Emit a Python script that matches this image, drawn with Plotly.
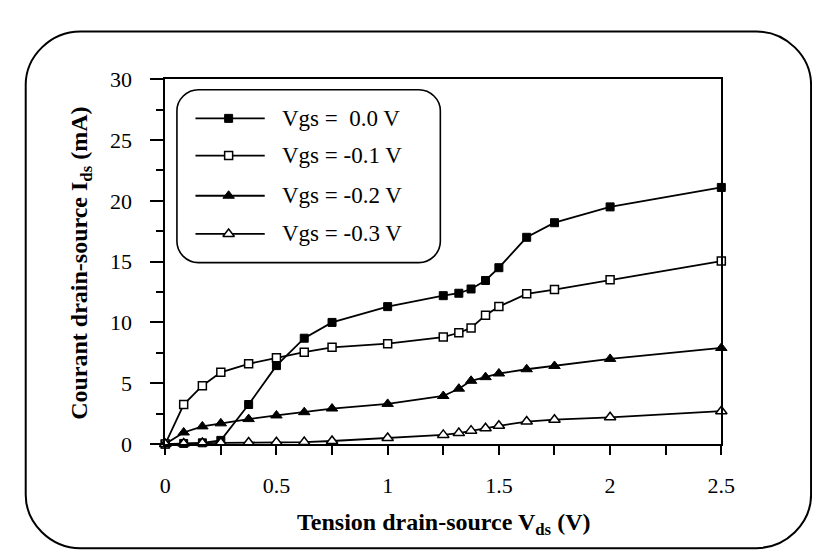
import plotly.graph_objects as go

# ---- data ----
vds = [0, 0.083, 0.167, 0.25, 0.375, 0.5, 0.625, 0.75, 1.0, 1.25, 1.32, 1.375,
       1.44, 1.5, 1.625, 1.75, 2.0, 2.5]
ids_vgs_0 = [0, 0.05, 0.1, 0.3, 3.25, 6.45, 8.7, 10.0, 11.3, 12.2, 12.4, 12.75,
             13.45, 14.5, 17.0, 18.2, 19.5, 21.1]
ids_vgs_m01 = [0, 3.25, 4.8, 5.9, 6.6, 7.1, 7.55, 7.95, 8.25, 8.8, 9.15, 9.55,
               10.6, 11.3, 12.35, 12.7, 13.5, 15.05]
ids_vgs_m02 = [0, 0.95, 1.45, 1.7, 2.05, 2.35, 2.62, 2.92, 3.3, 3.95, 4.55, 5.2,
               5.5, 5.8, 6.15, 6.42, 7.0, 7.9]
ids_vgs_m03 = [0, 0.05, 0.08, 0.1, 0.12, 0.14, 0.16, 0.25, 0.5, 0.75, 0.9, 1.1,
               1.3, 1.5, 1.85, 2.0, 2.2, 2.7]
series_names = ["Vgs =  0.0 V", "Vgs = -0.1 V", "Vgs = -0.2 V", "Vgs = -0.3 V"]
x_tick_vals = [0, 0.5, 1, 1.5, 2, 2.5]
x_tick_text = ["0", "0.5", "1", "1.5", "2", "2.5"]
y_tick_vals = [0, 5, 10, 15, 20, 25, 30]

W, H = 820, 556
FONT = "Liberation Serif, Times New Roman, serif"

styles = [
    dict(symbol="square", color="black", size=8, line=dict(color="black", width=1)),
    dict(symbol="square", color="white", size=8, line=dict(color="black", width=1.5)),
    dict(symbol="triangle-up", color="black", size=10, line=dict(color="black", width=1)),
    dict(symbol="triangle-up", color="white", size=10, line=dict(color="black", width=1.5)),
]
series = [ids_vgs_0, ids_vgs_m01, ids_vgs_m02, ids_vgs_m03]

fig = go.Figure()
for ys, st in zip(series, styles):
    fig.add_trace(go.Scatter(
        x=vds, y=ys, mode="lines+markers", showlegend=False,
        line=dict(color="black", width=1.8), marker=st, cliponaxis=False,
        xaxis="x", yaxis="y"))

# custom rounded legend, drawn on a pixel overlay axis
leg_rows = [103, 142, 184, 224]
for name, st, ry in zip(series_names, styles, leg_rows):
    fig.add_trace(go.Scatter(
        x=[186, 257], y=[ry, ry], mode="lines", showlegend=False,
        line=dict(color="black", width=1.8), xaxis="x2", yaxis="y2",
        hoverinfo="skip"))
    fig.add_trace(go.Scatter(
        x=[220], y=[ry], mode="markers", showlegend=False, marker=st,
        xaxis="x2", yaxis="y2", hoverinfo="skip", cliponaxis=False))
    fig.add_annotation(x=273, y=ry, xref="x2", yref="y2", text=name,
                       showarrow=False, xanchor="left", yanchor="middle",
                       font=dict(family=FONT, size=23, color="black"))


def rounded(x0, y0, x1, y1, r):
    k = 0.54 * r
    return (f"M{x0+r},{y0} L{x1-r},{y0} C{x1-r+k},{y0} {x1},{y0+r-k} {x1},{y0+r} "
            f"L{x1},{y1-r} C{x1},{y1-r+k} {x1-r+k},{y1} {x1-r},{y1} "
            f"L{x0+r},{y1} C{x0+r-k},{y1} {x0},{y1-r+k} {x0},{y1-r} "
            f"L{x0},{y0+r} C{x0},{y0+r-k} {x0+r-k},{y0} {x0+r},{y0} Z")


shapes = [
    dict(type="path", xref="x2", yref="y2", path=rounded(12, 12, 817, 553, 56),
         line=dict(color="black", width=2), layer="below"),
    dict(type="path", xref="x2", yref="y2", path=rounded(167, 73, 437, 254, 22),
         line=dict(color="black", width=1.6), layer="below"),
]

# axis titles
fig.add_annotation(x=440, y=528, xref="x2", yref="y2",
                   text="<b>Tension drain-source V<sub>ds</sub> (V)</b>",
                   showarrow=False, font=dict(family=FONT, size=24, color="black"))
fig.add_annotation(x=68, y=255, xref="x2", yref="y2", textangle=-90,
                   text="<b>Courant drain-source I<sub>ds</sub> (mA)</b>",
                   showarrow=False, font=dict(family=FONT, size=24, color="black"))

fig.update_layout(
    width=W, height=H,
    margin=dict(l=0, r=0, t=0, b=0),
    paper_bgcolor="white", plot_bgcolor="rgba(0,0,0,0)",
    shapes=shapes,
    xaxis=dict(domain=[155 / W, 725 / W], range=[0, 2.5], anchor="y",
               showgrid=False, zeroline=False, showline=True, linecolor="black",
               linewidth=1.5, mirror=True, ticks="outside", ticklen=9,
               tickwidth=1.5, tickcolor="black",
               tickvals=x_tick_vals, ticktext=x_tick_text,
               minor=dict(dtick=0.25, ticks="outside", ticklen=9, tickwidth=1.5,
                          tickcolor="black", showgrid=False),
               tickfont=dict(family=FONT, size=22, color="black"),
               ticklabelstandoff=12),
    yaxis=dict(domain=[1 - 444 / H, 1 - 62 / H], range=[0, 30], anchor="x",
               showgrid=False, zeroline=False, showline=True, linecolor="black",
               linewidth=1.5, mirror=True, ticks="outside", ticklen=13,
               tickwidth=1.5, tickcolor="black", tickvals=y_tick_vals,
               minor=dict(dtick=2.5, ticks="outside", ticklen=7, tickwidth=1.5,
                          tickcolor="black", showgrid=False),
               tickfont=dict(family=FONT, size=22, color="black"),
               ticklabelstandoff=14),
    xaxis2=dict(domain=[0, 1], range=[0, W], anchor="y2", visible=False,
                fixedrange=True),
    yaxis2=dict(domain=[0, 1], range=[H, 0], anchor="x2", visible=False,
                fixedrange=True),
)

fig.write_html("out.html")
